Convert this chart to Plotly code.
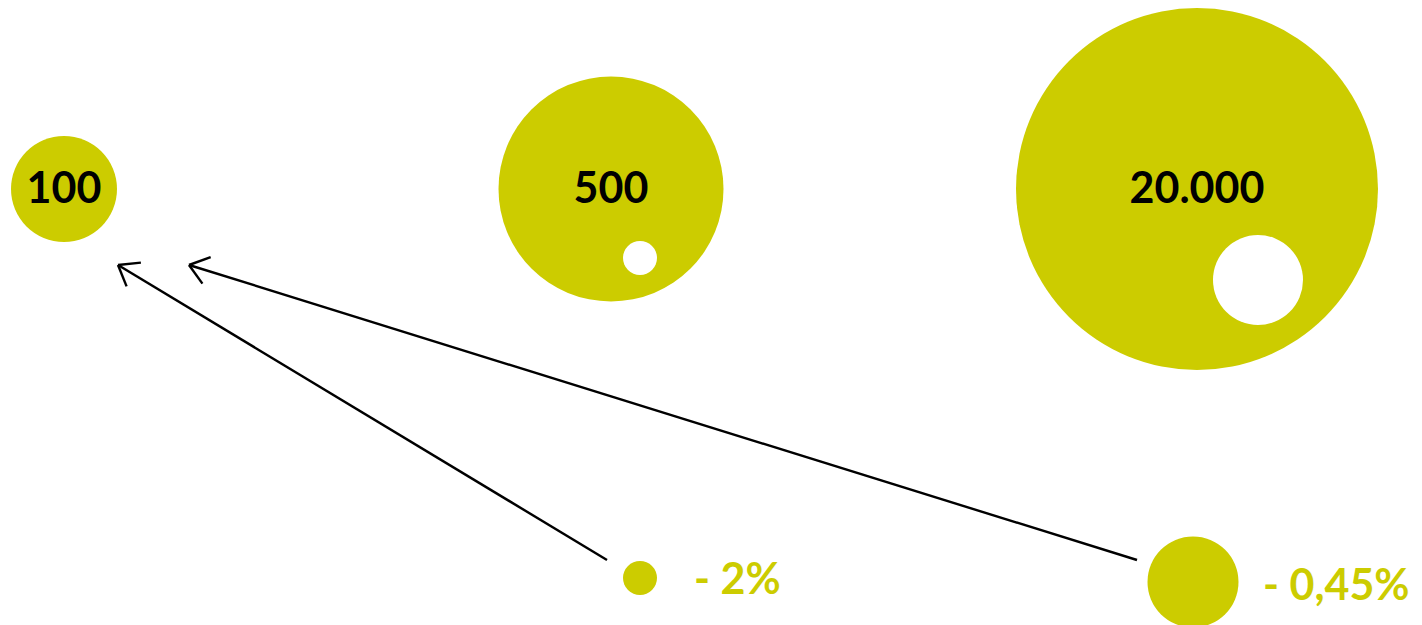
import math
import plotly.graph_objects as go

# ---- data ----
counts = [100, 500, 20000]
count_labels = ["100", "500", "20.000"]
rate_labels = ["- 2%", "- 0,45%"]

# ---- layout (pixel positions / sizes, not data) ----
W, H = 1422, 625
GREEN = "#CCCC00"
FONT = "Lato"

big_x = [64, 611, 1197]
big_y = [189, 189, 189]
big_d = [106, 225, 362]
text_dy = 3

hole_x = [640, 1258]
hole_y = [258, 280]
hole_d = [34, 90]

small_x = [640, 1193]
small_y = [578, 582]
small_d = [34, 91]

label_x = [692, 1261]
label_y = [577, 583]

arrow_start = [(607, 560), (1137, 560)]
arrow_tip = [(118, 265), (189, 265)]

fig = go.Figure()

# big circles
fig.add_trace(go.Scatter(
    x=big_x, y=big_y, mode="markers",
    marker=dict(size=big_d, color=GREEN, line=dict(width=0), opacity=1),
    hoverinfo="skip", showlegend=False,
))
# labels inside the big circles
fig.add_trace(go.Scatter(
    x=big_x, y=[v + text_dy for v in big_y], mode="text",
    text=count_labels, textposition="middle center",
    textfont=dict(family=FONT, size=43, color="black", weight="bold"),
    hoverinfo="skip", showlegend=False,
))
# white holes
fig.add_trace(go.Scatter(
    x=hole_x, y=hole_y, mode="markers",
    marker=dict(size=hole_d, color="white", line=dict(width=0), opacity=1),
    hoverinfo="skip", showlegend=False,
))
# small circles
fig.add_trace(go.Scatter(
    x=small_x, y=small_y, mode="markers",
    marker=dict(size=small_d, color=GREEN, line=dict(width=0), opacity=1),
    hoverinfo="skip", showlegend=False,
))

# arrows (line + open chevron head)
arm_len = 23
half_ang = math.radians(37)
for (sx, sy), (tx, ty) in zip(arrow_start, arrow_tip):
    ang = math.atan2(sy - ty, sx - tx)
    xs = [sx, tx, None]
    ys = [sy, ty, None]
    for s in (-1, 1):
        a = ang + s * half_ang
        xs += [tx + arm_len * math.cos(a), tx, None]
        ys += [ty + arm_len * math.sin(a), ty, None]
    fig.add_trace(go.Scatter(
        x=xs, y=ys, mode="lines",
        line=dict(color="black", width=2.4),
        hoverinfo="skip", showlegend=False,
    ))

for lx, ly, t in zip(label_x, label_y, rate_labels):
    fig.add_annotation(
        x=lx, y=ly, text=t, showarrow=False, xanchor="left", yanchor="middle",
        font=dict(family=FONT, size=43, color=GREEN, weight="bold"),
    )

fig.update_layout(
    width=W, height=H, autosize=False,
    margin=dict(l=0, r=0, t=0, b=0),
    paper_bgcolor="white", plot_bgcolor="white",
    xaxis=dict(range=[0, W], visible=False, fixedrange=True),
    yaxis=dict(range=[H, 0], visible=False, fixedrange=True),
)

fig.write_html(
    "out.html",
    config={"displayModeBar": False},
    post_script="document.body.style.margin='0';document.body.style.overflow='hidden';",
)
